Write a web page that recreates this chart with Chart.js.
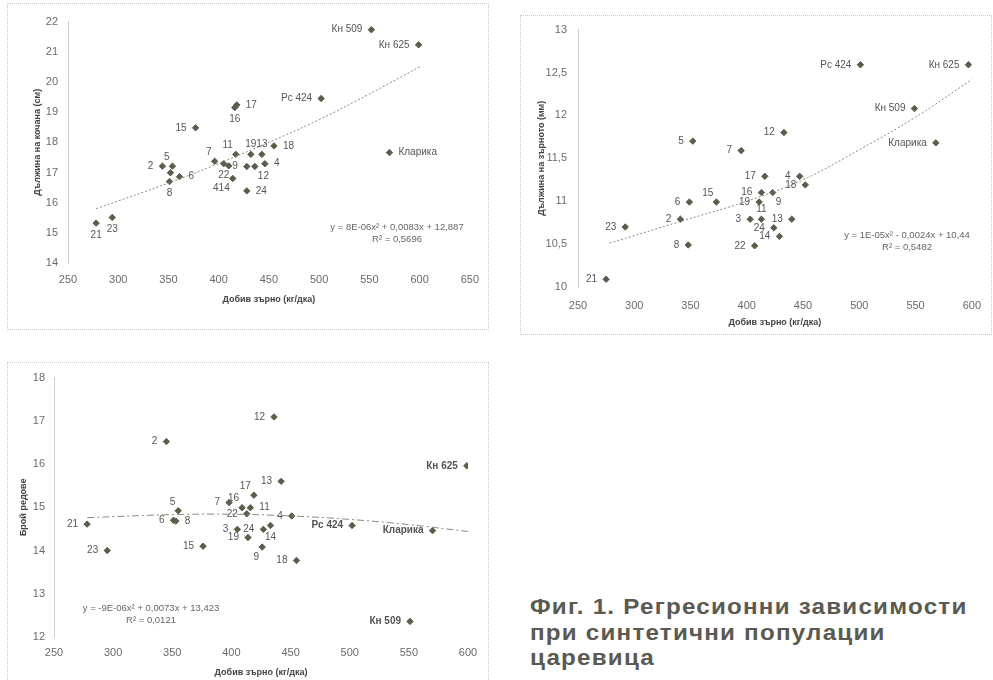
<!DOCTYPE html>
<html>
<head>
<meta charset="utf-8">
<script src="https://cdn.jsdelivr.net/npm/chart.js@4.4.1/dist/chart.umd.min.js"></script>
<style>
  body { margin:0; background:#fff; width:993px; height:680px; position:relative; overflow:hidden; font-family:"Liberation Sans", Arial, sans-serif; }
  .wrap { position:absolute; }
  .frame { position:absolute; border:1px dotted #c8c8c8; pointer-events:none; }
  #caption { position:absolute; left:530px; top:594px; font-weight:bold; font-size:22px; line-height:25.5px; letter-spacing:1.1px; color:#5a5a52; transform:scaleX(1.1); transform-origin:left top; white-space:nowrap; }
</style>
</head>
<body>

<div class="frame" style="left:7px;top:3px;width:480px;height:325px"></div>
<div class="frame" style="left:520px;top:15px;width:470px;height:318px"></div>
<div class="frame" style="left:7px;top:362px;width:480px;height:320px"></div>

<div class="wrap" style="left:7px;top:5px;width:482px;height:322px"><canvas id="ch1"></canvas></div>
<div class="wrap" style="left:520px;top:12px;width:473px;height:320px"><canvas id="ch2"></canvas></div>
<div class="wrap" style="left:7px;top:362px;width:481px;height:318px"><canvas id="ch3"></canvas></div>

<div id="caption">Фиг. 1. Регресионни зависимости<br>при синтетични популации<br>царевица</div>

<script>
// ---- chart 1: дължина на кочана ----
const names1 = ['Кн 509','Кн 625','Рс 424','Кларика','17','16','15','18','13','19','11','7','22','','9','12','4','414','24','2','5','','8','6','21','23'];
const yield1 = [552, 599, 502, 570, 418, 416, 377, 455, 443, 432, 417, 396, 405, 410, 428, 436, 446, 414, 428, 344, 354, 352, 351, 361, 278, 294];
const cob1   = [21.73, 21.23, 19.45, 17.66, 19.24, 19.15, 18.48, 17.88, 17.6, 17.6, 17.6, 17.37, 17.29, 17.22, 17.2, 17.2, 17.29, 16.8, 16.39, 17.21, 17.21, 16.99, 16.7, 16.86, 15.32, 15.51];
const lab1   = ['l','l','l','r','r','b','l','r','t','t','tl','tl','b','','l','br','r','bl','r','l','tl','','b','r','b','b'];
const trendX1 = [278, 350, 400, 450, 500, 550, 600];
const trendY1 = [15.8, 16.65, 17.3, 18.0, 18.75, 19.6, 20.5];

// ---- chart 2: дължина на зърното ----
const names2 = ['Рс 424','Кн 625','Кн 509','Кларика','12','5','7','17','4','18','16','9','6','15','19','2','3','11','13','24','14','22','8','23','21'];
const yield2 = [501, 597, 549, 568, 433, 352, 395, 416, 447, 452, 413, 423, 349, 373, 411, 341, 403, 413, 440, 424, 429, 407, 348, 292, 275];
const grain2 = [12.59, 12.59, 12.08, 11.68, 11.8, 11.7, 11.59, 11.29, 11.29, 11.19, 11.1, 11.1, 10.99, 10.99, 10.99, 10.79, 10.79, 10.79, 10.79, 10.69, 10.59, 10.48, 10.49, 10.7, 10.09];
const lab2   = ['l','l','l','l','l','l','l','l','l','l','l','br','l','tl','l','l','l','t','l','l','l','l','l','l','l'];
const trendX2 = [278, 340, 400, 450, 500, 550, 600];
const trendY2 = [10.51, 10.76, 11.0, 11.25, 11.6, 11.98, 12.42];

// ---- chart 3: брой редове ----
const names3 = ['12','2','Кн 625','13','17','7','16','11','5','22','4','6','8','21','Рс 424','Кларика','3','24','14','19','15','9','23','18','Кн 509'];
const yield3 = [436, 345, 599, 442, 419, 398, 409, 416, 355, 413, 451, 351, 353, 278, 502, 570, 405, 427, 433, 414, 376, 426, 295, 455, 551];
const rows3  = [17.09, 16.52, 15.96, 15.6, 15.28, 15.11, 14.99, 14.99, 14.92, 14.85, 14.8, 14.7, 14.68, 14.61, 14.58, 14.46, 14.49, 14.49, 14.58, 14.3, 14.1, 14.08, 14.0, 13.77, 12.36];
const lab3   = ['l','l','l','l','tl','l','tl','r','tl','l','l','l','r','l','l','l','l','l','b','l','l','bl','l','l','l'];
const trendX3 = [278, 350, 400, 450, 500, 550, 600];
const trendY3 = [14.76, 14.83, 14.84, 14.8, 14.72, 14.6, 14.44];

const hybrids = ['Кн 509','Кн 625','Рс 424','Кларика'];

const pointLabels = {
  id: 'pointLabels',
  afterDatasetsDraw(chart, args, opts) {
    const ctx = chart.ctx;
    const meta = chart.getDatasetMeta(1);
    ctx.save();
    ctx.fillStyle = '#555';
    meta.data.forEach(function (pt, i) {
      const t = opts.names[i];
      if (!t) return;
      const bold = opts.boldHybrids && hybrids.indexOf(t) >= 0;
      ctx.font = (bold ? 'bold ' : '') + '10px "Liberation Sans", Arial, sans-serif';
      const x = pt.x, y = pt.y;
      switch (opts.pos[i]) {
        case 'l': ctx.textAlign = 'right'; ctx.textBaseline = 'middle'; ctx.fillText(t, x - 9, y); break;
        case 'r': ctx.textAlign = 'left'; ctx.textBaseline = 'middle'; ctx.fillText(t, x + 9, y); break;
        case 't': ctx.textAlign = 'center'; ctx.textBaseline = 'bottom'; ctx.fillText(t, x, y - 5); break;
        case 'b': ctx.textAlign = 'center'; ctx.textBaseline = 'top'; ctx.fillText(t, x, y + 7); break;
        case 'tl': ctx.textAlign = 'right'; ctx.textBaseline = 'bottom'; ctx.fillText(t, x - 3, y - 4); break;
        case 'bl': ctx.textAlign = 'right'; ctx.textBaseline = 'top'; ctx.fillText(t, x - 3, y + 5); break;
        case 'br': ctx.textAlign = 'left'; ctx.textBaseline = 'top'; ctx.fillText(t, x + 3, y + 5); break;
      }
    });
    // regression equation
    ctx.font = '9.5px "Liberation Sans", Arial, sans-serif';
    ctx.textAlign = 'center';
    ctx.textBaseline = 'middle';
    ctx.fillStyle = '#666';
    ctx.fillText(opts.eq[0], opts.eqAt[0], opts.eqAt[1]);
    ctx.fillText(opts.eq[1], opts.eqAt[0], opts.eqAt[1] + 12);
    ctx.restore();
  }
};

function toPts(xs, ys) {
  return xs.map(function (x, i) { return { x: x, y: ys[i] }; });
}

function makeChart(id, cfg) {
  return new Chart(document.getElementById(id), {
    type: 'scatter',
    data: {
      datasets: [
        {
          type: 'line',
          data: toPts(cfg.tx, cfg.ty),
          borderColor: '#8a8a80',
          borderWidth: 1,
          borderDash: cfg.dash,
          pointRadius: 0,
          fill: false,
          tension: 0.4
        },
        {
          data: toPts(cfg.xs, cfg.ys),
          pointStyle: 'rectRot',
          pointRadius: 3.2,
          backgroundColor: '#5c5c4c',
          borderColor: '#5c5c4c',
          borderWidth: 1
        }
      ]
    },
    options: {
      responsive: true,
      maintainAspectRatio: false,
      animation: false,
      events: [],
      layout: { padding: { left: 0, right: cfg.padR, top: cfg.padT, bottom: 0 } },
      plugins: {
        legend: { display: false },
        tooltip: { enabled: false },
        pointLabels: { names: cfg.names, pos: cfg.pos, eq: cfg.eq, eqAt: cfg.eqAt, boldHybrids: cfg.bold }
      },
      scales: {
        x: {
          type: 'linear',
          min: cfg.xmin, max: cfg.xmax,
          grid: { display: false, drawTicks: false, tickLength: 0 },
          border: { display: false },
          ticks: { stepSize: 50, padding: cfg.xtp, color: '#6a6a6a', font: { size: 11, family: '"Liberation Sans", Arial, sans-serif' }, maxRotation: 0 },
          title: { display: true, text: 'Добив зърно (кг/дка)', color: '#444', font: { size: 9, weight: 'bold', family: '"Liberation Sans", Arial, sans-serif' }, padding: { top: 0, bottom: cfg.xtb } },
          afterFit: function (s) { s.height = cfg.xh; }
        },
        y: {
          type: 'linear',
          min: cfg.ymin, max: cfg.ymax,
          grid: { display: false, drawTicks: false, tickLength: 0 },
          border: { display: true, color: '#cfcfcf', dash: [2, 2] },
          ticks: {
            stepSize: cfg.ystep, padding: cfg.ytp, color: '#6a6a6a',
            font: { size: 11, family: '"Liberation Sans", Arial, sans-serif' },
            callback: function (v) { return String(v).replace('.', ','); }
          },
          title: { display: true, text: cfg.ytitle, color: '#444', font: { size: 9, weight: 'bold', family: '"Liberation Sans", Arial, sans-serif' }, padding: { top: cfg.ytt, bottom: 0 } },
          afterFit: function (s) { s.width = cfg.yw; }
        }
      }
    },
    plugins: [pointLabels]
  });
}

makeChart('ch1', {
  xs: yield1, ys: cob1, names: names1, pos: lab1, tx: trendX1, ty: trendY1, dash: [2, 2],
  xmin: 250, xmax: 650, ymin: 14, ymax: 22, ystep: 1,
  ytitle: 'Дължина на кочана (см)',
  yw: 61, xh: 64, padR: 19, padT: 15, xtp: 10, ytp: 10, xtb: 22, ytt: 25,
  eq: ['y = 8E-06x² + 0,0083x + 12,887', 'R² = 0,5696'], eqAt: [390, 222], bold: false
});

makeChart('ch2', {
  xs: yield2, ys: grain2, names: names2, pos: lab2, tx: trendX2, ty: trendY2, dash: [2, 2],
  xmin: 250, xmax: 600, ymin: 10, ymax: 13, ystep: 0.5,
  ytitle: 'Дължина на зърното (мм)',
  yw: 58, xh: 45, padR: 10, padT: 16, xtp: 12, ytp: 11, xtb: 4, ytt: 16,
  eq: ['y = 1E-05x² - 0,0024x + 10,44', 'R² = 0,5482'], eqAt: [387, 223], bold: false
});

makeChart('ch3', {
  xs: yield3, ys: rows3, names: names3, pos: lab3, tx: trendX3, ty: trendY3, dash: [7, 3, 2, 3],
  xmin: 250, xmax: 600, ymin: 12, ymax: 18, ystep: 1,
  ytitle: 'Брой редове',
  yw: 47, xh: 43, padR: 20, padT: 11, xtp: 9, ytp: 9, xtb: 2, ytt: 11,
  eq: ['y = -9E-06x² + 0,0073x + 13,423', 'R² = 0,0121'], eqAt: [144, 246], bold: true
});
</script>
</body>
</html>
